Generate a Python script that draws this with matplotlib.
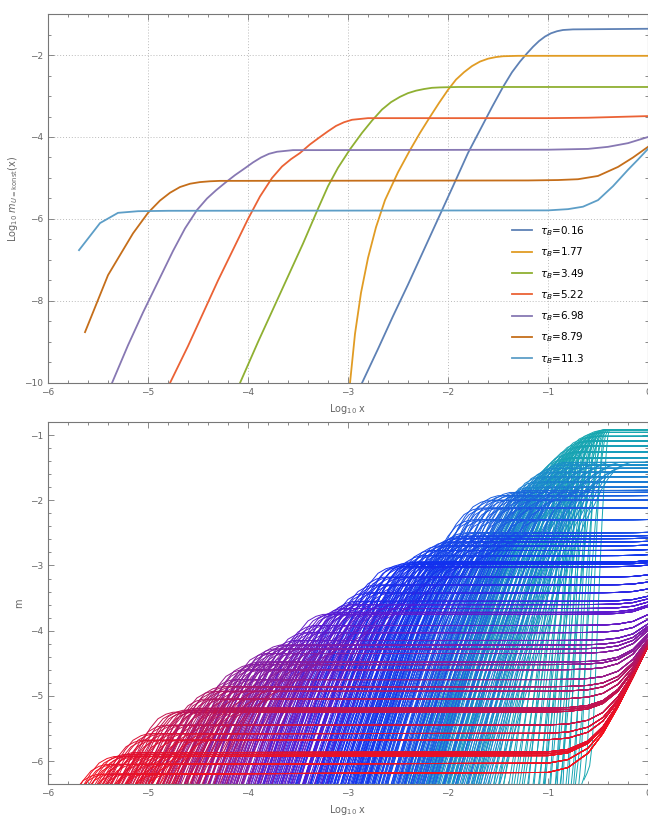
import numpy as np
import matplotlib.pyplot as plt
from matplotlib.collections import LineCollection
from matplotlib.colors import LinearSegmentedColormap

plt.rcParams["font.family"] = "DejaVu Sans"
grey = "#666666"

# ---- upper panel: log10 m for fixed U, one curve per tau_B
tau_labels = ["0.16", "1.77", "3.49", "5.22", "6.98", "8.79", "11.3"]
tau_colors = ["#5e81b5", "#e19c24", "#8fb032", "#eb6235", "#8778b3", "#c56e1a", "#5d9ec7"]

x_016 = [-2.86, -2.7, -2.55, -2.4, -2.25, -2.1, -1.95, -1.8, -1.68, -1.56, -1.45, -1.36, -1.28, -1.21,
         -1.15, -1.09, -1.03, -0.97, -0.91, -0.85, -0.75, -0.5, 0.0]
y_016 = [-10, -9.17, -8.37, -7.6, -6.8, -6.0, -5.2, -4.39, -3.83, -3.27, -2.78, -2.42, -2.16, -1.96,
         -1.80, -1.66, -1.55, -1.47, -1.42, -1.39, -1.375, -1.37, -1.36]
x_177 = [-2.98, -2.93, -2.87, -2.8, -2.72, -2.63, -2.5, -2.38, -2.28, -2.18, -2.09, -2.0, -1.92,
         -1.84, -1.76, -1.68, -1.6, -1.52, -1.45, -1.3, -1.0, 0.0]
y_177 = [-10, -8.8, -7.8, -6.95, -6.2, -5.54, -4.86, -4.32, -3.9, -3.51, -3.17, -2.85, -2.6,
         -2.42, -2.27, -2.16, -2.09, -2.05, -2.03, -2.02, -2.02, -2.02]
x_349 = [-4.08, -3.9, -3.75, -3.6, -3.45, -3.3, -3.2, -3.1, -2.98, -2.86, -2.76, -2.66, -2.57, -2.48,
         -2.4, -2.32, -2.24, -2.16, -2.08, -1.9, 0.0]
y_349 = [-10, -9.0, -8.2, -7.4, -6.6, -5.75, -5.2, -4.75, -4.3, -3.9, -3.6, -3.33, -3.15, -3.02,
         -2.93, -2.87, -2.83, -2.8, -2.79, -2.78, -2.78]
x_522 = [-4.78, -4.6, -4.45, -4.3, -4.15, -4.0, -3.88, -3.76, -3.66, -3.57, -3.48, -3.38, -3.28, -3.2,
         -3.12, -3.04, -2.96, -2.88, -2.8, -2.5, -1.0, -0.6, -0.3, 0.0]
y_522 = [-10, -9.1, -8.3, -7.5, -6.75, -6.0, -5.45, -5.0, -4.72, -4.54, -4.39, -4.18, -4.0, -3.86,
         -3.73, -3.64, -3.58, -3.56, -3.54, -3.54, -3.54, -3.53, -3.51, -3.49]
x_698 = [-5.36, -5.2, -5.05, -4.9, -4.75, -4.63, -4.51, -4.41, -4.32, -4.23, -4.13, -4.03, -3.95,
         -3.87, -3.79, -3.71, -3.63, -3.55, -3.3, -1.0, -0.6, -0.4, -0.2, 0.0]
y_698 = [-10, -9.08, -8.28, -7.53, -6.78, -6.23, -5.78, -5.5, -5.3, -5.12, -4.93, -4.76, -4.62,
         -4.5, -4.41, -4.36, -4.34, -4.32, -4.32, -4.31, -4.29, -4.24, -4.15, -4.0]
x_879 = [-5.63, -5.4, -5.28, -5.15, -5.0, -4.88, -4.78, -4.68, -4.58, -4.48, -4.38, -4.28, -4.1,
         -1.2, -0.9, -0.7, -0.5, -0.3, -0.15, 0.0]
y_879 = [-8.76, -7.37, -6.88, -6.35, -5.85, -5.55, -5.36, -5.22, -5.14, -5.1, -5.08, -5.07, -5.07,
         -5.06, -5.05, -5.03, -4.95, -4.73, -4.5, -4.24]
x_113 = [-5.69, -5.48, -5.3, -5.1, -4.8, -1.0, -0.8, -0.65, -0.5, -0.35, -0.2, -0.1, 0.0]
y_113 = [-6.76, -6.1, -5.85, -5.81, -5.8, -5.79, -5.76, -5.7, -5.54, -5.2, -4.8, -4.55, -4.29]

top_x = [x_016, x_177, x_349, x_522, x_698, x_879, x_113]
top_y = [y_016, y_177, y_349, y_522, y_698, y_879, y_113]

# ---- lower panel: families of m(x) curves
# rise-and-saturate shape measured on one curve, relative to its knee
profile_dx = [-2.01, -1.75, -1.55, -1.35, -1.17, -0.95, -0.76, -0.6, -0.45, -0.36, -0.3, -0.23, -0.15, -0.07, 0.0]
profile_dy = [-8.63, -7.33, -6.23, -5.13, -4.17, -3.02, -2.14, -1.41, -0.88, -0.63, -0.43, -0.25, -0.1, -0.03, 0.0]
# common rising branch that lifts the low plateaus towards x = 1
tail_x = [-1.0, -0.5, 0.0]
tail_y = [-7.4, -5.85, -4.25]
plateau_x = [-1.0, -0.8, -0.6, -0.45, -0.3, -0.15, 0.0]

# knees (x, plateau) of each family, red -> teal
knee_x = [
    [-5.50, -5.42, -5.34, -5.25, -5.16, -5.07, -5.00],
    [-4.85, -4.75, -4.65, -4.55, -4.45, -4.36, -4.28],
    [-4.15, -4.07, -3.99, -3.91, -3.83, -3.75, -3.68],
    [-3.55, -3.45, -3.35, -3.25, -3.15, -3.07, -3.00],
    [-2.95, -2.85, -2.75, -2.65, -2.55, -2.47, -2.40],
    [-2.35, -2.27, -2.19, -2.11, -2.03, -1.96, -1.90],
    [-1.85, -1.77, -1.69, -1.60, -1.50, -1.38, -1.25],
    [-1.20, -1.14, -1.08, -1.02, -0.96, -0.90, -0.85],
    [-0.80, -0.74, -0.68, -0.62, -0.56, -0.50, -0.45],
]
knee_y = [
    [-6.20, -6.05, -5.93, -5.90, -5.87, -5.68, -5.58],
    [-5.45, -5.25, -5.22, -5.19, -5.05, -4.93, -4.86],
    [-4.75, -4.60, -4.52, -4.48, -4.35, -4.28, -4.22],
    [-4.15, -4.03, -3.92, -3.75, -3.72, -3.66, -3.60],
    [-3.55, -3.42, -3.30, -3.18, -3.02, -2.98, -2.95],
    [-2.95, -2.85, -2.77, -2.70, -2.64, -2.59, -2.55],
    [-2.50, -2.30, -2.12, -2.00, -1.93, -1.88, -1.85],
    [-1.80, -1.72, -1.64, -1.57, -1.51, -1.46, -1.42],
    [-1.35, -1.26, -1.17, -1.09, -1.02, -0.96, -0.92],
]
family_hue = [0.0, 0.12, 0.25, 0.37, 0.5, 0.6, 0.7, 0.8, 0.93]
knee_shift = [0.0, 0.05, 0.11, 0.18, 0.26, 0.35, 0.45, 0.56, 0.68]
# the teal family fans out in steepness instead of shifting
teal_stretch = [1.25, 1.05, 0.88, 0.72, 0.58, 0.45, 0.33, 0.22, 0.13]

hue_map = LinearSegmentedColormap.from_list(
    "rb", ["#f5101c", "#c2124e", "#8a1c9c", "#5a1ad2", "#1030f0", "#1a50e6", "#1a8ccc", "#17a8b0"])


def style_axes(ax, xminor, yminor):
    for s in ax.spines.values():
        s.set_color("#777777")
        s.set_linewidth(0.8)
    ax.tick_params(which="both", direction="in", top=True, right=True,
                   colors="#777777", labelcolor=grey, labelsize=6.5, width=0.6)
    ax.tick_params(which="major", length=4)
    ax.tick_params(which="minor", length=2)
    ax.xaxis.set_minor_locator(plt.MultipleLocator(xminor))
    ax.yaxis.set_minor_locator(plt.MultipleLocator(yminor))


fig = plt.figure(figsize=(6.48, 8.34), dpi=100)
ax1 = fig.add_axes([0.0741, 0.5408, 0.9259, 0.4424])
ax2 = fig.add_axes([0.0741, 0.0600, 0.9259, 0.4340])

for xs, ys, c, lab in zip(top_x, top_y, tau_colors, tau_labels):
    ax1.plot(xs, ys, color=c, lw=1.3, label=r"$\tau_B$=" + lab)
ax1.set_xlim(-6, 0)
ax1.set_ylim(-10, -1)
ax1.set_xticks([-6, -5, -4, -3, -2, -1, 0])
ax1.set_yticks([-10, -8, -6, -4, -2])
ax1.grid(True, which="major", color="#bbbbbb", ls=(0, (1, 2)), lw=0.7)
style_axes(ax1, 0.2, 0.5)
ax1.set_xlabel(r"Log$_{10}$ x", color=grey, fontsize=7)
ax1.set_ylabel(r"Log$_{10}$ $m_{U=\mathrm{konst}}$(x)", color=grey, fontsize=7)
ax1.yaxis.set_label_coords(-0.046, 0.5)
ax1.legend(loc="upper left", bbox_to_anchor=(0.757, 0.456), frameon=False, fontsize=7.5,
           handlelength=2.0, handletextpad=0.7, labelspacing=0.72, borderpad=0.4)

segs, cols = [], []
last = len(knee_x) - 1
for f in range(last, -1, -1):
    for i in range(len(knee_x[f])):
        kx, ky = knee_x[f][i], knee_y[f][i]
        hue = family_hue[f] + 0.09 * i / len(knee_x[f])
        for j, sh in enumerate(knee_shift):
            if f == last:
                k, stretch = kx + 0.1 * sh, teal_stretch[j]
            else:
                k, stretch = kx + sh, 1.0
            xs = k + np.array(profile_dx) * stretch
            ys = ky + np.array(profile_dy)
            px = np.array([p for p in plateau_x if p > k])
            xs = np.concatenate([xs, px])
            ys = np.concatenate([ys, np.full(len(px), ky)])
            lift = np.interp(xs, tail_x, tail_y, left=-20)
            ys = np.log10(10.0 ** ys + 10.0 ** lift)
            segs.append(np.column_stack([xs, ys]))
            cols.append(hue_map(min(hue, 1.0)))
ax2.add_collection(LineCollection(segs, colors=cols, linewidths=0.7))
ax2.set_xlim(-6, 0)
ax2.set_ylim(-6.35, -0.8)
ax2.set_xticks([-6, -5, -4, -3, -2, -1, 0])
ax2.set_yticks([-6, -5, -4, -3, -2, -1])
style_axes(ax2, 0.2, 0.2)
ax2.set_xlabel(r"Log$_{10}$ x", color=grey, fontsize=7)
ax2.set_ylabel("m", color=grey, fontsize=7)

fig.savefig("out.png", dpi=100)
